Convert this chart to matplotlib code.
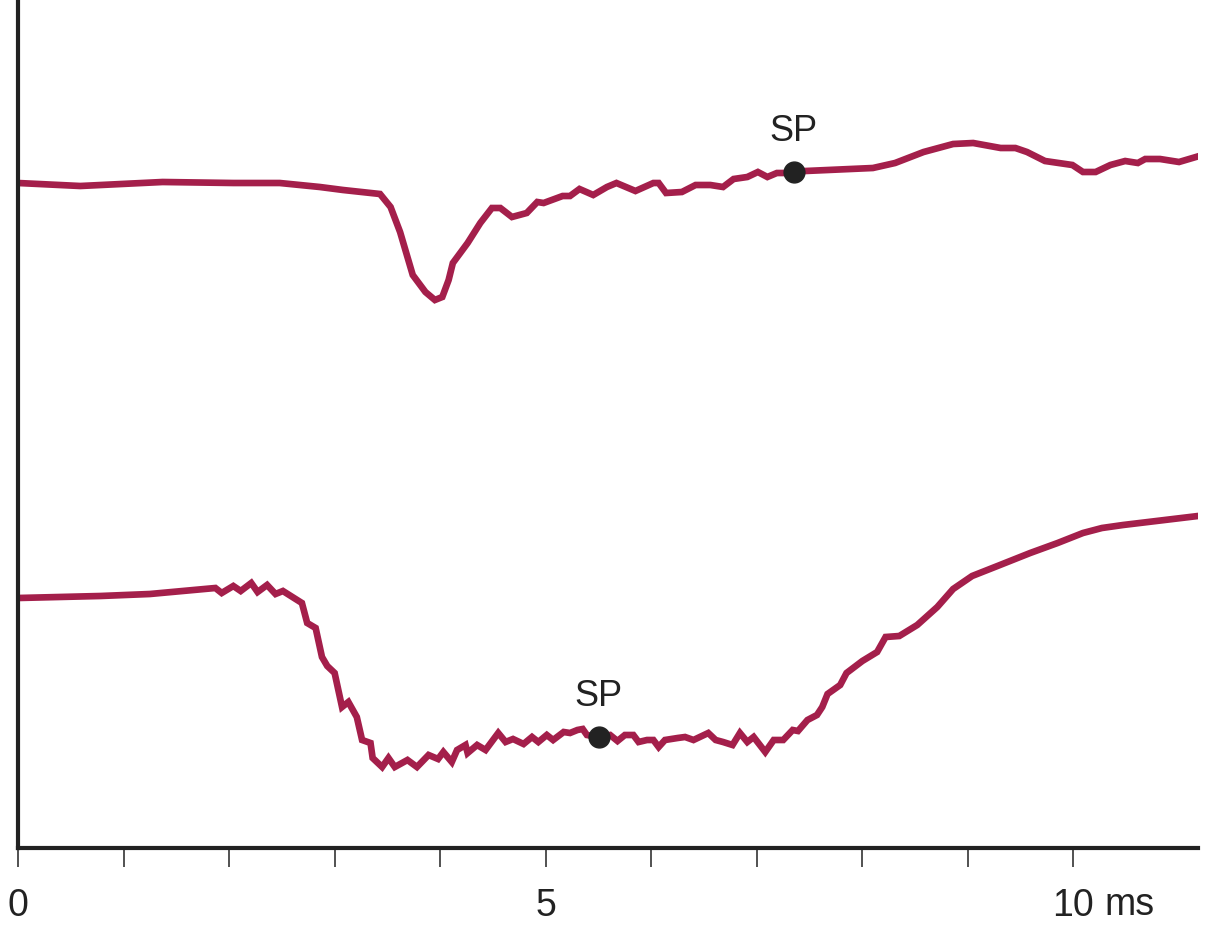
import matplotlib
matplotlib.use("Agg")
import matplotlib.pyplot as plt

plt.rcParams['font.family'] = ['Liberation Sans', 'DejaVu Sans']

# upper trace (time in ms, potential in arbitrary units)
t_top = [0.00, 0.59, 1.37, 2.04, 2.48, 2.86, 3.08, 3.43, 3.53, 3.62, 3.74, 3.86,
         3.95, 4.02, 4.08, 4.12, 4.26, 4.38, 4.49, 4.57, 4.68, 4.82, 4.92, 4.98,
         5.16, 5.23, 5.32, 5.45, 5.58, 5.67, 5.85, 6.02, 6.07, 6.14, 6.29, 6.42,
         6.56, 6.68, 6.78, 6.91, 7.01, 7.10, 7.19, 7.32, 7.35, 7.46, 8.10, 8.31,
         8.58, 8.86, 9.05, 9.31, 9.45, 9.56, 9.73, 9.99, 10.09, 10.21, 10.35,
         10.49, 10.61, 10.68, 10.82, 11.00, 11.16]
v_top = [6.65, 6.62, 6.66, 6.65, 6.65, 6.61, 6.58, 6.54, 6.41, 6.16, 5.73, 5.56,
         5.48, 5.51, 5.68, 5.85, 6.05, 6.25, 6.40, 6.40, 6.31, 6.35, 6.46, 6.45,
         6.52, 6.52, 6.59, 6.53, 6.61, 6.65, 6.57, 6.65, 6.65, 6.55, 6.56, 6.63,
         6.63, 6.61, 6.69, 6.71, 6.76, 6.71, 6.75, 6.75, 6.76, 6.77, 6.80, 6.85,
         6.96, 7.04, 7.05, 7.00, 7.00, 6.96, 6.87, 6.83, 6.76, 6.76, 6.83,
         6.87, 6.85, 6.89, 6.89, 6.86, 6.91]

# lower trace
t_bot = [0.00, 0.78, 1.25, 1.87, 1.93, 2.04, 2.11, 2.21, 2.27, 2.36, 2.44, 2.51,
         2.69, 2.74, 2.82, 2.88, 2.93, 3.00, 3.07, 3.13, 3.21, 3.26, 3.34, 3.36,
         3.45, 3.51, 3.57, 3.69, 3.78, 3.89, 3.98, 4.03, 4.11, 4.16, 4.24, 4.26,
         4.35, 4.43, 4.55, 4.62, 4.69, 4.79, 4.87, 4.93, 5.01, 5.07, 5.17, 5.23,
         5.30, 5.35, 5.39, 5.50, 5.61, 5.68, 5.75, 5.83, 5.88, 5.96, 6.02, 6.07,
         6.13, 6.25, 6.32, 6.40, 6.46, 6.54, 6.61, 6.68, 6.77, 6.84, 6.91, 6.97,
         7.08, 7.16, 7.25, 7.34, 7.39, 7.48, 7.57, 7.62, 7.67, 7.79, 7.85, 8.00,
         8.14, 8.22, 8.35, 8.52, 8.71, 8.86, 9.04, 9.28, 9.59, 9.85, 10.09, 10.27,
         10.47, 11.18]
v_bot = [2.50, 2.52, 2.54, 2.60, 2.55, 2.62, 2.57, 2.65, 2.56, 2.63, 2.54, 2.57,
         2.45, 2.25, 2.20, 1.91, 1.82, 1.75, 1.41, 1.46, 1.31, 1.08, 1.05, 0.90,
         0.81, 0.90, 0.81, 0.88, 0.81, 0.93, 0.89, 0.96, 0.86, 0.98, 1.03, 0.95,
         1.03, 0.98, 1.15, 1.06, 1.09, 1.04, 1.11, 1.06, 1.13, 1.08, 1.16, 1.15,
         1.18, 1.19, 1.13, 1.11, 1.13, 1.07, 1.13, 1.13, 1.06, 1.08, 1.08, 1.01,
         1.08, 1.10, 1.11, 1.08, 1.11, 1.15, 1.08, 1.06, 1.03, 1.15, 1.06, 1.11,
         0.96, 1.08, 1.08, 1.18, 1.17, 1.28, 1.33, 1.41, 1.54, 1.63, 1.75, 1.87,
         1.96, 2.11, 2.12, 2.23, 2.41, 2.59, 2.72, 2.82, 2.95, 3.05, 3.15, 3.20,
         3.23, 3.32]

# SP markers
sp_t = [7.35, 5.50]
sp_v = [6.76, 1.11]

x_ticks = list(range(0, 11))
x_labels = ['0', '', '', '', '', '5', '', '', '', '', '10']
unit = 'ms'

line_color = '#a41f4b'
ink = '#222222'

fig = plt.figure(figsize=(12.15, 9.3), dpi=100)
ax = fig.add_axes([18 / 1215, 82 / 930, 1180 / 1215, 848 / 930])

ax.plot(t_top, v_top, color=line_color, lw=4.8, solid_joinstyle='miter')
ax.plot(t_bot, v_bot, color=line_color, lw=4.8, solid_joinstyle='miter')
ax.plot(sp_t, sp_v, 'o', color=ink, ms=15, zorder=5)
for t, v in zip(sp_t, sp_v):
    ax.annotate('SP', (t, v), xytext=(0, 29), textcoords='offset points',
                ha='center', va='center', fontsize=26, color=ink)

ax.set_xlim(0, 11.18)
ax.set_ylim(0, 8.48)
ax.set_xticks(x_ticks)
ax.set_xticklabels(x_labels, fontsize=27, color=ink)
ax.set_yticks([])
ax.tick_params(axis='x', direction='out', length=14, width=1.1, color=ink, pad=15)

# unit after the last labelled tick
ax.annotate(unit, xy=(x_ticks[-1], 0), xycoords=('data', 'axes fraction'),
            xytext=(22, -41), textcoords='offset points',
            ha='left', va='center', fontsize=27, color=ink)

for s in ['top', 'right']:
    ax.spines[s].set_visible(False)
for s in ['left', 'bottom']:
    ax.spines[s].set_linewidth(3)
    ax.spines[s].set_color(ink)

fig.savefig('out.png', dpi=100)
